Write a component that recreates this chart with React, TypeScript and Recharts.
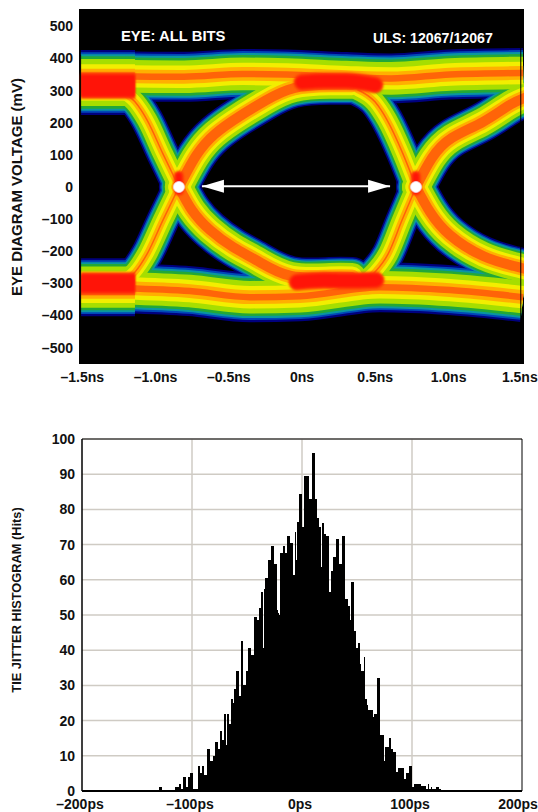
import { BarChart, Bar, CartesianGrid, Line, LineChart, ReferenceArea, XAxis, YAxis } from 'recharts';

const FONT = '"Liberation Sans", Arial, sans-serif';

// top panel: eye diagram axis ticks
const eyeVoltTicks = [-500, -400, -300, -200, -100, 0, 100, 200, 300, 400, 500];
const eyeTimeTicks = [-1.5, -1, -0.5, 0, 0.5, 1, 1.5];

// traces of the eye, t in ns and v in mV
const rise1aT = [-1.256, -1.14, -1.058, -0.949, -0.84];
const rise1aV = [-302, -265, -209, -103, 0];
const rise1bT = [-0.84, -0.723, -0.594, -0.423, -0.253, -0.055, 0.191, 0.341];
const rise1bV = [0, 97, 165, 221, 268, 308, 318, 318];
const fall1aT = [-1.256, -1.14, -1.058, -0.949, -0.84];
const fall1aV = [302, 265, 209, 103, 0];
const fall1bT = [-0.84, -0.751, -0.628, -0.471, -0.3, -0.075, 0.191, 0.341];
const fall1bV = [0, -72, -134, -187, -231, -277, -280, -280];
const fall2aT = [0.382, 0.498, 0.58, 0.689, 0.778];
const fall2aV = [302, 265, 209, 103, 0];
const rise2aT = [0.396, 0.498, 0.587, 0.683, 0.778];
const rise2aV = [-302, -265, -209, -103, 0];
const rise2bT = [0.778, 0.887, 1.024, 1.236, 1.42, 1.556];
const rise2bV = [0, 90, 153, 203, 256, 284];
const fall2bT = [0.778, 0.874, 1.01, 1.236, 1.447, 1.556];
const fall2bV = [0, -78, -150, -215, -246, -259];

// the two rails
const topLeftT = [-1.509, -1.14];
const topLeftV = [325, 325];
const topMidT = [-1.208, -0.805, -0.403, -0.102, 0.3, 0.608, 1.01, 1.509];
const topMidV = [345, 343, 352, 350, 342, 338, 350, 355];
const botLeftT = [-1.509, -1.14];
const botLeftV = [-312, -312];
const botMidT = [-1.208, -0.765, -0.355, -0.014, 0.532, 1.01, 1.509];
const botMidV = [-315, -324, -343, -340, -312, -321, -343];

// hottest parts of the rails and crossings
const hotTopLeftT = [-1.509, -1.14];
const hotTopLeftV = [315, 315];
const hotTopMidT = [0.0, 0.15, 0.3, 0.498];
const hotTopMidV = [326, 330, 330, 318];
const hotBotLeftT = [-1.509, -1.14];
const hotBotLeftV = [-300, -300];
const hotBotMidT = [-0.034, 0.15, 0.3, 0.505];
const hotBotMidV = [-296, -290, -292, -290];
const hotCross1T = [-0.841, -0.839];
const hotCross1V = [35, -12];
const hotCross2T = [0.777, 0.779];
const hotCross2V = [35, -12];

const heatColors = ['#00007e', '#0048b8', '#0a96a0', '#22a838', '#a6de00', '#f2ee00', '#ffb000', '#ff6408'];
const heatInsets = [0, 1.5, 2.8, 4.2, 6, 9.5, 12.5, 15];

const toPoints = (ts: number[], vs: number[]) => ts.map((t, i) => ({ t, v: vs[i] }));

const eyeBands = [
  { id: 'topLeft', pts: toPoints(topLeftT, topLeftV), w: 65, k: 1.5, cap: 'butt', curve: 'monotone' },
  { id: 'botLeft', pts: toPoints(botLeftT, botLeftV), w: 58, k: 1.4, cap: 'butt', curve: 'monotone' },
  { id: 'topMid', pts: toPoints(topMidT, topMidV), w: 50, k: 1.45, cap: 'butt', curve: 'monotone' },
  { id: 'botMid', pts: toPoints(botMidT, botMidV), w: 50, k: 1.45, cap: 'butt', curve: 'monotone' },
  { id: 'rise1a', pts: toPoints(rise1aT, rise1aV), w: 33, k: 1.05, cap: 'round', curve: 'monotone' },
  { id: 'fall1a', pts: toPoints(fall1aT, fall1aV), w: 33, k: 1.05, cap: 'round', curve: 'monotone' },
  { id: 'rise1b', pts: toPoints(rise1bT, rise1bV), w: 40, k: 1, cap: 'round', curve: 'natural' },
  { id: 'fall1b', pts: toPoints(fall1bT, fall1bV), w: 40, k: 1, cap: 'round', curve: 'natural' },
  { id: 'fall2a', pts: toPoints(fall2aT, fall2aV), w: 33, k: 1.05, cap: 'round', curve: 'monotone' },
  { id: 'rise2a', pts: toPoints(rise2aT, rise2aV), w: 33, k: 1.05, cap: 'round', curve: 'monotone' },
  { id: 'rise2b', pts: toPoints(rise2bT, rise2bV), w: 40, k: 1, cap: 'round', curve: 'natural' },
  { id: 'fall2b', pts: toPoints(fall2bT, fall2bV), w: 40, k: 1, cap: 'round', curve: 'natural' },
];

const hotBands = [
  { id: 'hot1', pts: toPoints(hotTopLeftT, hotTopLeftV), w: 22, cap: 'butt' },
  { id: 'hot2', pts: toPoints(hotTopMidT, hotTopMidV), w: 13, cap: 'round' },
  { id: 'hot3', pts: toPoints(hotBotLeftT, hotBotLeftV), w: 18, cap: 'butt' },
  { id: 'hot4', pts: toPoints(hotBotMidT, hotBotMidV), w: 13, cap: 'round' },
  { id: 'hot5', pts: toPoints(hotCross1T, hotCross1V), w: 6, cap: 'round' },
  { id: 'hot6', pts: toPoints(hotCross2T, hotCross2V), w: 6, cap: 'round' },
];

// thin black bars at both ends of the capture
const edgeLines = [
  toPoints([-1.511, -1.511], [412, 225]),
  toPoints([-1.511, -1.511], [-221, -405]),
  toPoints([1.493, 1.493], [433, 187]),
  toPoints([1.493, 1.493], [-174, -421]),
];

const arrowPts = toPoints([-0.683, 0.601], [2, 2]);
const crossPts = toPoints([-0.84, 0.778], [0, 0]);

// bottom panel
const histHitTicks = [0, 10, 20, 30, 40, 50, 60, 70, 80, 90, 100];
const histTimeTicks = [-200, -100, 0, 100, 200];
const histGridX = [-100, 0, 100];
const binStartPs = -130;
const binWidthPs = 1 / 1.1;

const hits = [
  1, 1, 1, 0.3, 0.3, 0.3, 0.3, 0.3, 0.3, 0.3, 0.3, 0.3, 0.3, 0.3, 0.3, 0.3,
  1, 1, 1, 1, 2, 2, 0.5, 0.5, 4, 4, 4, 1, 1, 4, 4, 5, 5, 5,
  0.5, 0.5, 0.5, 0.5, 0.5, 7, 7, 5, 5, 7, 7, 4.5, 4.5, 4.5,
  12, 12, 12, 8.5, 8.5, 8.5, 10, 10, 14, 14, 14, 12, 12, 17, 17, 14.5, 14.5,
  22, 22, 13, 22, 22, 19, 19, 26, 26, 25, 29, 29, 34, 34, 34, 27, 27,
  42.5, 42.5, 30, 30, 30, 34, 34, 40.5, 40.5, 40.5, 38.5, 38.5, 38.5,
  49.5, 49.5, 49.5, 48.5, 48.5, 52, 52, 56.5, 56.5, 40.5, 57.5,
  60.5, 60.5, 60.5, 65.5, 65.5, 65.5, 69.5, 69.5, 69.5, 64.5, 64.5, 64.5, 51.5, 50.5, 50,
  67.5, 67.5, 67.5, 69.5, 69.5, 67.5, 67.5, 72.5, 72.5, 72.5, 70.5, 70.5, 70.5, 61.5, 61.5,
  73.5, 65.5, 76.5, 76.5, 84.5, 84.5, 84.5, 75, 75, 89.5, 89.5, 89.5, 89.5, 89.5,
  83, 83, 83, 96, 96, 96, 83, 83, 77.5, 77.5, 75, 75, 63.5, 76, 76, 73, 73,
  72.5, 72.5, 72.5, 56.5, 56.5, 62.5, 62.5, 66.5, 66.5, 66.5, 71.5, 71.5, 71.5,
  64.5, 64.5, 64.5, 72.5, 72.5, 72.5, 54.5, 54.5, 54.5, 52.5, 52.5, 48.5,
  59.5, 59.5, 59.5, 45.5, 45.5, 40.5, 40.5, 42, 42, 36, 34, 34, 34, 38,
  26, 26, 24.5, 23, 23, 23, 23, 23, 21, 22, 22, 22, 32, 32, 32,
  16, 16, 16, 16, 8.5, 12.5, 12.5, 12.5, 12.5, 15, 15, 12, 12, 11, 11, 11,
  5.5, 5.5, 6.5, 6.5, 6.5, 6.5, 6.5, 6.5, 3.5, 3.5, 5, 5, 5, 7, 7, 7,
  1, 1, 2, 2, 2, 2, 2, 2, 2, 1.5, 1.5, 1.5, 1.5, 1.5, 0.5, 0.5, 2, 0.5, 0.5, 1.2,
  0.5, 0.5, 0.5, 0.5, 1.2, 1.2, 1.2, 0.5, 0.5,
];

const histData = hits.map((h, i) => ({ ps: binStartPs + binWidthPs * (i + 0.5), h }));

const tickStyle = { fill: '#111', fontFamily: FONT, fontWeight: 700, fontSize: 14 };
const dash = (n: number) => (n < 0 ? `\u2013${-n}` : `${n}`);

// x tick labels sit a little left of their positions, the last one most
const xTick = (format: (v: number) => string, shift: number) => (p: any) => {
  const last = p.index === p.visibleTicksCount - 1;
  return (
    <text x={p.x - shift - (last ? 2 : 0)} y={p.y} dy={17.5} textAnchor="middle" {...tickStyle}>
      {format(p.payload.value)}
    </text>
  );
};

const crossDot = (p: any) => (
  <circle key={p.index} cx={p.cx} cy={p.cy} r={5.5} fill="#fff" stroke="#f0d8e8" strokeWidth={0.8} />
);

const arrowHead = (p: any) => {
  const dir = p.index === 0 ? 1 : -1;
  const d = `M${p.cx} ${p.cy} L${p.cx + dir * 22} ${p.cy - 6.5} L${p.cx + dir * 22} ${p.cy + 6.5} Z`;
  return <path key={p.index} d={d} fill="#fff" />;
};

const eyeTimeLabel = (t: number) => `${t < 0 ? '\u2013' : ''}${t === 0 ? '0' : Math.abs(t).toFixed(1)}ns`;

function EyeDiagram() {
  return (
    <LineChart width={538} height={390} margin={{ top: 9, right: 14, bottom: 0, left: 0 }}>
      <CartesianGrid fill="#000" fillOpacity={1} horizontal={false} vertical={false} />
      <XAxis
        dataKey="t"
        type="number"
        domain={[-1.522, 1.515]}
        allowDataOverflow
        ticks={eyeTimeTicks}
        interval={0}
        height={26}
        axisLine={false}
        tickLine={false}
        tickSize={0}
        tickMargin={0}
        tick={xTick(eyeTimeLabel, 0)}
      />
      <YAxis
        type="number"
        domain={[-551, 554]}
        ticks={eyeVoltTicks}
        interval={0}
        width={79}
        axisLine={false}
        tickLine={false}
        tickSize={0}
        tickMargin={6}
        tick={tickStyle}
        tickFormatter={dash}
      />
      {heatColors.map((color, lvl) =>
        eyeBands.map((b) => {
          const width = b.w - 2 * heatInsets[lvl] * b.k;
          if (width <= 0) return null;
          return (
            <Line
              key={`${b.id}-${lvl}`}
              className="eye-band"
              data={b.pts}
              dataKey="v"
              type={b.curve as any}
              stroke={color}
              strokeWidth={width}
              strokeLinecap={b.cap as any}
              dot={false}
              activeDot={false}
              isAnimationActive={false}
            />
          );
        }),
      )}
      {['#ff3c08', '#ff1408'].map((color, lvl) =>
        hotBands.map((b) => (
          <Line
            key={`${b.id}-${lvl}`}
            className="eye-hot"
            data={b.pts}
            dataKey="v"
            type="monotone"
            stroke={color}
            strokeWidth={lvl === 0 ? b.w + 4 : b.w}
            strokeLinecap={b.cap as any}
            dot={false}
            activeDot={false}
            isAnimationActive={false}
          />
        )),
      )}
      {edgeLines.map((pts, i) => (
        <Line
          key={`edge-${i}`}
          data={pts}
          dataKey="v"
          type="linear"
          stroke="#000"
          strokeWidth={1}
          dot={false}
          activeDot={false}
          isAnimationActive={false}
        />
      ))}
      <Line data={arrowPts} dataKey="v" type="linear" stroke="#fff" strokeWidth={2} dot={arrowHead} activeDot={false} isAnimationActive={false} />
      <Line data={crossPts} dataKey="v" type="linear" stroke="none" dot={crossDot} activeDot={false} isAnimationActive={false} />
      <text x={121} y={41} fill="#fff" fontFamily={FONT} fontWeight={700} fontSize={14.8}>EYE: ALL BITS</text>
      <text x={373} y={43} fill="#fff" fontFamily={FONT} fontWeight={700} fontSize={14.2}>ULS: 12067/12067</text>
      <text x={0} y={0} transform="translate(22 187) rotate(-90)" textAnchor="middle" fill="#111" fontFamily={FONT} fontWeight={700} fontSize={15}>
        EYE DIAGRAM VOLTAGE (mV)
      </text>
    </LineChart>
  );
}

function JitterHistogram() {
  return (
    <BarChart width={538} height={412} data={histData} margin={{ top: 39, right: 16, bottom: 0, left: 0 }}>
      <CartesianGrid stroke="#cfcbc4" strokeWidth={1.5} verticalValues={histGridX} horizontalValues={histHitTicks} />
      <XAxis
        dataKey="ps"
        type="number"
        domain={[-200, 200]}
        ticks={histTimeTicks}
        interval={0}
        height={21}
        axisLine={{ stroke: '#000', strokeWidth: 2 }}
        tickLine={false}
        tickSize={0}
        tickMargin={0}
        tick={xTick((t) => `${dash(t)}ps`, 2)}
      />
      <YAxis
        type="number"
        domain={[0, 100]}
        ticks={histHitTicks}
        interval={0}
        width={82}
        axisLine={{ stroke: '#000' }}
        tickLine={false}
        tickSize={0}
        tickMargin={7}
        tick={tickStyle}
      />
      <ReferenceArea x1={-200} x2={200} y1={0} y2={100} fill="none" stroke="#000" strokeWidth={1} />
      <Bar dataKey="h" fill="#000" barSize={1} isAnimationActive={false} shapeRendering="crispEdges" />
      <text x={0} y={0} transform="translate(21 200) rotate(-90)" textAnchor="middle" fill="#111" fontFamily={FONT} fontWeight={700} fontSize={12.8}>
        TIE JITTER HISTOGRAM (Hits)
      </text>
    </BarChart>
  );
}

export default function App() {
  return (
    <div style={{ position: 'absolute', left: 0, top: 0, width: 538, height: 812, overflow: 'hidden', background: '#fff' }}>
      <style>{'.eye-band{filter:blur(0.7px)} .eye-hot{filter:blur(1.2px)}'}</style>
      <EyeDiagram />
      <div style={{ position: 'absolute', left: 0, top: 400 }}>
        <JitterHistogram />
      </div>
    </div>
  );
}
